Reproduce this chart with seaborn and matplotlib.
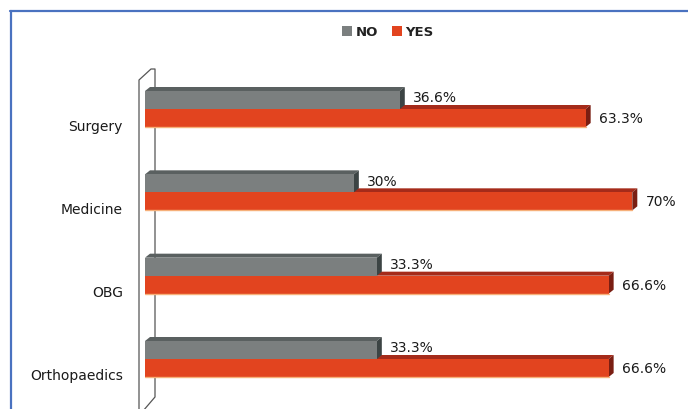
import matplotlib
matplotlib.use("Agg")
import matplotlib.pyplot as plt
from matplotlib.patches import Polygon, Patch
from matplotlib.lines import Line2D
import seaborn as sns
import pandas as pd

# Survey responses by department (percent)
departments = ["Surgery", "Medicine", "OBG", "Orthopaedics"]
no_values = [36.6, 30, 33.3, 33.3]
yes_values = [63.3, 70, 66.6, 66.6]
no_labels = ["36.6%", "30%", "33.3%", "33.3%"]
yes_labels = ["63.3%", "70%", "66.6%", "66.6%"]
responses = ["NO", "YES"]

front = {"NO": "#7b7f7f", "YES": "#e2441f"}
top_face = {"NO": "#5a6060", "YES": "#a52b1a"}
side_face = {"NO": "#3c4444", "YES": "#7a1e12"}

df = pd.DataFrame({
    "dept": departments * 2,
    "pct": no_values + yes_values,
    "resp": ["NO"] * len(departments) + ["YES"] * len(departments),
})

sns.set_theme(style="white")
plt.rcParams["font.family"] = ["DejaVu Sans"]

W, H = 688, 410
fig = plt.figure(figsize=(W / 100, H / 100), dpi=100)
ax = fig.add_axes([145 / W, 0, (W - 145) / W, (H - 60) / H])
ax.patch.set_alpha(0)

sns.barplot(data=df, y="dept", x="pct", hue="resp", hue_order=responses,
            order=departments, orient="h", width=0.432, gap=0,
            palette=front, linewidth=0, saturation=1, legend=False, ax=ax,
            errorbar=None)

xmax = 78.0
ax.set_xlim(0, xmax)
ax.set_ylim(3.6, -0.6)

# pixel -> data scale for the 3D depth of each bar
px_x = (W - 145) / xmax
px_y = (H - 60) / 4.2
dx = 5 / px_x
dy = 4 / px_y

n = len(departments)
for k, patch in enumerate(ax.patches[: 2 * n]):
    resp = responses[k // n]
    x0 = patch.get_x()
    x1 = x0 + patch.get_width()
    y_a = patch.get_y()
    y_b = y_a + patch.get_height()
    ytop, ybot = min(y_a, y_b), max(y_a, y_b)
    z = 1 if resp == "YES" else 3
    patch.set_zorder(z + 1)
    ax.add_patch(Polygon([(x0, ytop), (x1, ytop), (x1 + dx, ytop - dy), (x0 + dx, ytop - dy)],
                         closed=True, facecolor=top_face[resp], edgecolor="none", zorder=z))
    ax.add_patch(Polygon([(x1, ytop), (x1 + dx, ytop - dy), (x1 + dx, ybot - dy), (x1, ybot)],
                         closed=True, facecolor=side_face[resp], edgecolor="none", zorder=z))
    if resp == "YES":
        ax.plot([x0, x1], [ybot, ybot], color="#f6b07a", lw=1, zorder=z + 1)
    labels = no_labels if resp == "NO" else yes_labels
    yoff = 2 if resp == "NO" else 0
    ax.annotate(labels[k % n], (x1, (ytop + ybot) / 2), xytext=(9.5, yoff),
                textcoords="offset points", va="center", ha="left",
                fontsize=10, color="#1a1a1a", zorder=6)

ax.set_yticks([i + 0.18 for i in range(n)])
ax.set_yticklabels(departments, fontsize=10, color="#1a1a1a")
ax.tick_params(axis="y", length=0, pad=16)
ax.set_xticks([])
ax.set_xlabel("")
ax.set_ylabel("")
for s in ax.spines.values():
    s.set_visible(False)


def fx(px):
    return px / W


def fy(py):
    return 1 - py / H


# back wall outline, behind the bars
wall_x = [139, 139, 151, 155, 155, 143]
wall_y = [412, 81, 70, 70, 398, 412]
fig.add_artist(Line2D([fx(v) for v in wall_x], [fy(v) for v in wall_y],
                      transform=fig.transFigure, color="#555555", lw=0.9, zorder=-1))

# frame lines
fig.add_artist(Line2D([fx(10), 1], [fy(11.5), fy(11.5)], transform=fig.transFigure,
                      color="#4a72c0", lw=1.6))
fig.add_artist(Line2D([fx(10.5), fx(10.5)], [0, fy(11.5)], transform=fig.transFigure,
                      color="#4a72c0", lw=1.6))

handles = [Patch(facecolor=front[r], edgecolor="none") for r in responses]
fig.legend(handles, responses, loc="center", bbox_to_anchor=(fx(388), fy(33)),
           ncol=2, frameon=False, handlelength=0.75, handleheight=0.75,
           handletextpad=0.3, columnspacing=1.0,
           prop={"size": 9.5, "weight": "bold"}, labelcolor="#222222")

fig.savefig("out.png", dpi=100)
